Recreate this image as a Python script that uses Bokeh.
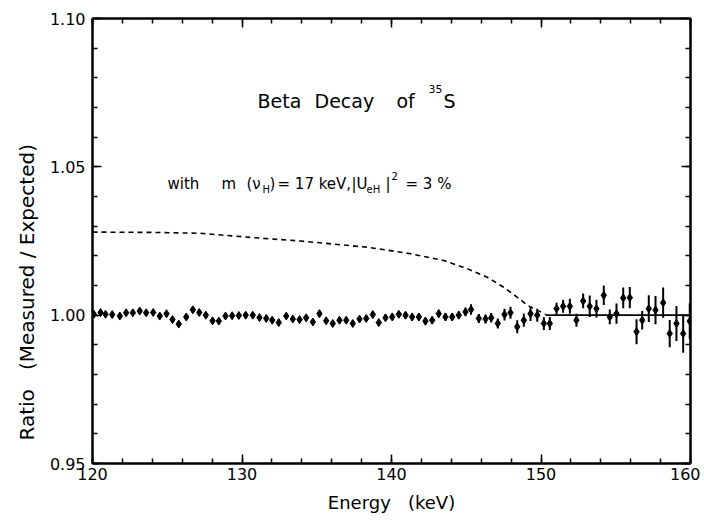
import math
from bokeh.plotting import figure
from bokeh.models import (Label, LinearAxis, SingleIntervalTicker, Range1d, NumeralTickFormatter,
                          CustomJSTickFormatter, Title)
from bokeh.embed import file_html
from bokeh.resources import INLINE

# ---- data ----
energy = [120.09, 120.54, 120.87, 121.32, 121.83, 122.25, 122.70, 123.16, 123.59, 124.06, 124.50, 124.95,
          125.35, 125.77, 126.27, 126.71, 127.14, 127.58, 128.03, 128.45, 128.90, 129.34, 129.79, 130.25,
          130.72, 131.17, 131.62, 132.02, 132.46, 132.96, 133.40, 133.85, 134.29, 134.74, 135.18, 135.63,
          136.07, 136.52, 136.97, 137.41, 137.86, 138.31, 138.75, 139.15, 139.60, 140.05,
          140.49, 140.94, 141.38, 141.83, 142.27, 142.72, 143.16, 143.61, 144.06, 144.50, 144.95, 145.32,
          145.84, 146.29, 146.67, 147.11, 147.56, 147.96, 148.41, 148.85, 149.30, 149.75, 150.19, 150.59,
          151.04, 151.48, 151.93, 152.37, 152.82, 153.26, 153.71, 154.20, 154.60, 155.05, 155.50, 155.94,
          156.39, 156.77, 157.21, 157.66, 158.17, 158.61, 159.06, 159.51, 159.95]
ratio = [1.0003, 1.0009, 1.0003, 1.0002, 0.9997, 1.0008, 1.0008, 1.0014, 1.0008, 1.0009, 0.9997, 1.0005,
         0.9985, 0.9970, 0.9994, 1.0018, 1.0009, 1.0000, 0.9981, 0.9980, 0.9997, 0.9998, 0.9999, 1.0000,
         1.0000, 0.9992, 0.9989, 0.9983, 0.9975, 0.9997, 0.9987, 0.9985, 0.9991, 0.9977, 1.0005, 0.9981,
         0.9972, 0.9983, 0.9983, 0.9972, 0.9987, 0.9989, 1.0002, 0.9975, 0.9991, 0.9994,
         1.0003, 1.0000, 0.9994, 0.9994, 0.9980, 0.9983, 1.0005, 0.9994, 0.9994, 1.0000, 1.0011, 1.0019,
         0.9989, 0.9987, 0.9991, 0.9972, 1.0002, 1.0008, 0.9961, 0.9983, 1.0005, 1.0000, 0.9972, 0.9972,
         1.0022, 1.0030, 1.0030, 0.9983, 1.0048, 1.0030, 1.0022, 1.0067, 0.9994, 1.0005, 1.0058, 1.0059,
         0.9944, 0.9983, 1.0022, 1.0017, 1.0042, 0.9938, 0.9972, 0.9938, 0.9980]
error = [0.0009, 0.0009, 0.0009, 0.0009, 0.0009, 0.0009, 0.0009, 0.0009, 0.0009, 0.0009, 0.0009, 0.0009,
         0.0009, 0.0009, 0.0009, 0.0009, 0.0009, 0.0009, 0.0009, 0.0009, 0.0009, 0.0009, 0.0009, 0.0010,
         0.0010, 0.0010, 0.0010, 0.0010, 0.0010, 0.0010, 0.0010, 0.0010, 0.0010, 0.0010, 0.0011, 0.0010,
         0.0010, 0.0010, 0.0010, 0.0010, 0.0010, 0.0011, 0.0011, 0.0011, 0.0011, 0.0011,
         0.0011, 0.0011, 0.0012, 0.0012, 0.0012, 0.0012, 0.0013, 0.0013, 0.0013, 0.0013, 0.0015, 0.0018,
         0.0015, 0.0015, 0.0016, 0.0017, 0.0020, 0.0020, 0.0022, 0.0022, 0.0025, 0.0022, 0.0022, 0.0022,
         0.0020, 0.0022, 0.0025, 0.0022, 0.0025, 0.0036, 0.0030, 0.0033, 0.0025, 0.0034, 0.0035, 0.0036,
         0.0042, 0.0031, 0.0045, 0.0048, 0.0051, 0.0046, 0.0059, 0.0065, 0.0060]

# theoretical curve with a 17 keV heavy neutrino (3 % mixing)
curve_energy = [120.0, 123.9, 127.2, 130.6, 133.9, 138.4, 141.3, 143.5, 145.1, 146.4, 147.5, 148.4, 149.1, 150.3]
curve_ratio = [1.0280, 1.0279, 1.0276, 1.0262, 1.0250, 1.0229, 1.0207, 1.0184, 1.0156, 1.0128, 1.0094, 1.0061, 1.0033, 1.0003]

# no-heavy-neutrino reference line
ref_energy = [150.3, 160.0]
ref_ratio = [1.0, 1.0]

x_ticks_interval = 10
y_ticks_interval = 0.05

FONT = "DejaVu Sans"
NB = "\u00a0"

p = figure(width=700, height=520, x_range=Range1d(120, 160), y_range=Range1d(0.95, 1.10),
           output_backend="svg", toolbar_location=None, x_axis_location=None, y_axis_location=None,
           min_border_left=92, min_border_right=10, min_border_top=18, min_border_bottom=57)
p.xgrid.visible = False
p.ygrid.visible = False
p.outline_line_color = "black"
p.outline_line_width = 2
p.background_fill_color = "white"
p.border_fill_color = "white"

blank = CustomJSTickFormatter(code="return ''")

bottom = LinearAxis(ticker=SingleIntervalTicker(interval=x_ticks_interval, num_minor_ticks=5))
left = LinearAxis(ticker=SingleIntervalTicker(interval=y_ticks_interval, num_minor_ticks=5),
                  formatter=NumeralTickFormatter(format="0.00"))
top = LinearAxis(ticker=SingleIntervalTicker(interval=x_ticks_interval, num_minor_ticks=5),
                 formatter=blank, major_label_standoff=0)
right = LinearAxis(ticker=SingleIntervalTicker(interval=y_ticks_interval, num_minor_ticks=5),
                   formatter=blank, major_label_standoff=0)

for ax in [bottom, left, top, right]:
    ax.axis_line_width = 2
    ax.axis_line_color = "black"
    ax.major_tick_in = 9
    ax.major_tick_out = 0
    ax.minor_tick_in = 5
    ax.minor_tick_out = 0
    ax.major_tick_line_width = 1.5
    ax.minor_tick_line_width = 1.5
    ax.major_tick_line_color = "black"
    ax.minor_tick_line_color = "black"
    ax.major_label_text_font = FONT
    ax.major_label_text_font_size = "16px"
    ax.major_label_text_color = "black"

bottom.major_label_standoff = 4
left.major_label_standoff = 7
bottom.axis_label = "Energy" + NB * 3 + "(keV)"
bottom.axis_label_text_font = FONT
bottom.axis_label_text_font_size = "18px"
bottom.axis_label_text_font_style = "normal"
bottom.axis_label_standoff = 9
bottom.axis_label_text_color = "black"

p.add_layout(bottom, "below")
p.add_layout(left, "left")
p.add_layout(top, "above")
p.add_layout(right, "right")

# y-axis label as a left-side title, starting a bit above the frame bottom
ylabel = "Ratio" + NB * 3 + "(Measured" + NB + "/" + NB + "Expected)"
p.add_layout(Title(text=ylabel, align="left", offset=23,
                   text_font=FONT, text_font_size="20px", text_font_style="normal",
                   text_color="black", standoff=16), "left")

# data
lower = [r - e for r, e in zip(ratio, error)]
upper = [r + e for r, e in zip(ratio, error)]
p.segment(x0=energy, y0=lower, x1=energy, y1=upper, line_color="black", line_width=2)
p.scatter(energy, ratio, marker="diamond", size=8, color="black")

p.line(curve_energy, curve_ratio, line_dash="5 4", line_width=1.6, line_color="black")
p.line(ref_energy, ref_ratio, line_width=1.6, line_color="black")

# texts (positions in screen px relative to the frame's bottom-left)
def lab(text, sx, sy, size, align="left"):
    p.add_layout(Label(x=sx, y=sy, x_units="screen", y_units="screen", text=text,
                       text_font=FONT, text_font_size=size, text_color="black",
                       text_align=align, text_baseline="middle"))

# title
lab("Beta", 165, 363, "19px")
lab("Decay", 222, 363, "19px")
lab("of", 304, 363, "19px")
lab("35", 336, 375, "11px")
lab("S", 351, 363, "19px")

# annotation
base = 280
lab("with", 75, base, "15px")
lab("m", 129, base, "15px")
lab("(ν", 154, base, "15px")
lab("H", 170, base - 6, "10px")
lab(")", 177, base, "15px")
lab("= 17 keV,", 185, base, "15px")
lab("|U", 259, base, "15px")
lab("eH", 274, base - 6, "10px")
lab("|", 293, base, "15px")
lab("2", 299, base + 8, "10px")
lab("= 3 %", 313, base, "15px")

open("out.html", "w").write(file_html(p, INLINE))
